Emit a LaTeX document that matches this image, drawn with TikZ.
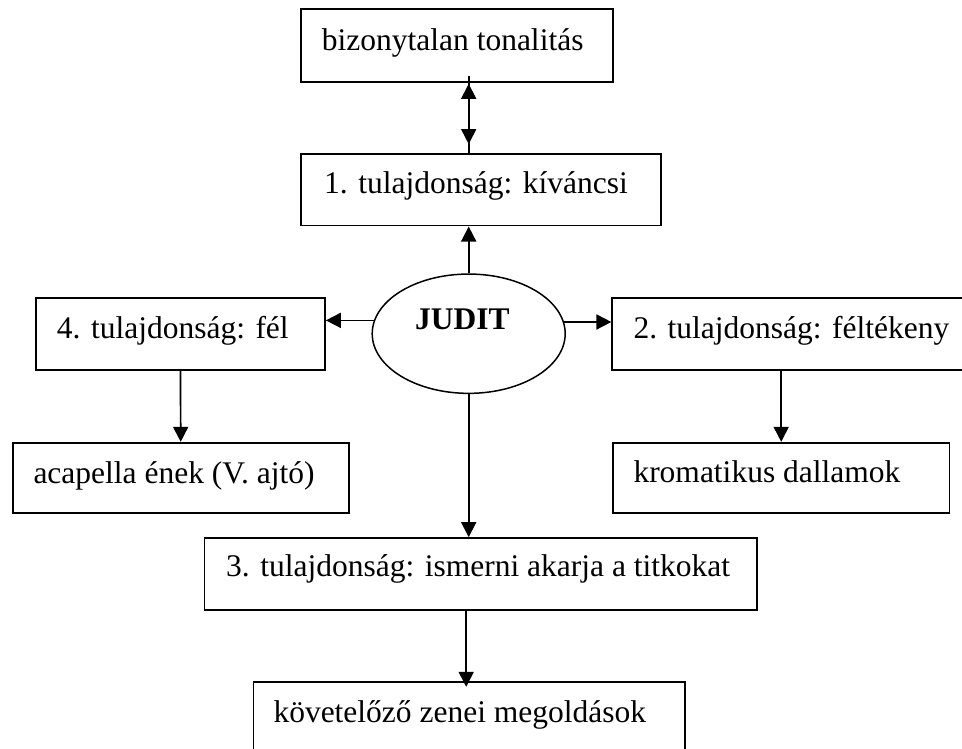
\documentclass[tikz,border=0pt]{standalone}
\usepackage{fontspec}
\setmainfont{Liberation Serif}
\usetikzlibrary{arrows.meta,shapes.geometric,calc}
\begin{document}
\begin{tikzpicture}[x=1pt,y=-1pt,
  box/.style={draw,line width=1.7pt,rectangle,inner sep=0pt},
  lbl/.style={inner sep=0pt,anchor=base west,font=\fontsize{31.5}{36}\selectfont},
  arr/.style={line width=1.7pt,-{Triangle[width=15pt,length=15pt]}},
  ln/.style={line width=1.7pt}]
\useasboundingbox (0,0) rectangle (962,749);
\clip (0,0) rectangle (962,749);
% boxes
\node[box,minimum width=311.7pt,minimum height=72.4pt] (top) at (457,45.5) {};
\node[box,minimum width=359.7pt,minimum height=71.7pt] (b1) at (480.8,189.8) {};
\node[box,minimum width=289pt,minimum height=72.3pt] (b4) at (180.5,333.8) {};
\node[box,minimum width=362.7pt,minimum height=72pt] (b2) at (793.6,333.7) {};
\node[box,minimum width=336pt,minimum height=70.6pt] (ac) at (180.7,478) {};
\node[box,minimum width=336.3pt,minimum height=70.6pt] (kr) at (781.2,478) {};
\node[box,minimum width=552.2pt,minimum height=72pt] (b3) at (480.6,574) {};
\node[box,minimum width=431.7pt,minimum height=72.4pt] (bot) at (469.2,717.9) {};
\node[ellipse,draw,line width=1.5pt,inner sep=0pt,minimum width=193pt,minimum height=119.3pt] (ell) at (468.7,333.7) {};
% texts
\node[lbl] (ttop) at (321.7,50.5) {bizonytalan tonalitás};
\node[lbl] (t1) at (324,194) {1. tulajdonság: kíváncsi};
\node[lbl] (t4) at (56.7,338.3) {4. tulajdonság: fél};
\node[lbl] (t2) at (633.3,338.3) {2. tulajdonság: féltékeny};
\node[lbl] (tac) at (33.3,483.3) {acapella ének (V. ajtó)};
\node[lbl] (tkr) at (633.3,482.3) {kromatikus dallamok};
\node[lbl] (t3) at (226,576.7) {3. tulajdonság: ismerni akarja a titkokat};
\node[lbl] (tbot) at (273.3,722) {követelőző zenei megoldások};
\node[lbl,font=\fontsize{31.5}{36}\selectfont\bfseries] (jt) at (415,329) {JUDIT};
% connectors
\draw[ln] ($(ell.north |- top.south)+(0,-7)$) -- (ell.north |- b1.north);
\draw[ln,{Triangle[width=15pt,length=15pt]}-{Triangle[width=15pt,length=15pt]},shorten <=1.3pt,shorten >=9pt] (ell.north |- top.south) -- (ell.north |- b1.north);
\draw[arr] (ell.north) -- (ell.north |- b1.south);
\draw[arr] (ell.172.8) -- (ell.172.8 -| b4.east);
\draw[arr] (ell.7.2) -- (ell.7.2 -| b2.west);
\draw[arr] (b4.south) -- (ac.north);
\draw[arr] (kr.north |- b2.south) -- (kr.north);
\draw[arr] (ell.south) -- (ell.south |- b3.north);
\draw[arr,shorten >=-6pt] ($(bot.north |- b3.south)+(-3,0)$) -- ($(bot.north)+(-3,0)$);
\end{tikzpicture}
\end{document}
